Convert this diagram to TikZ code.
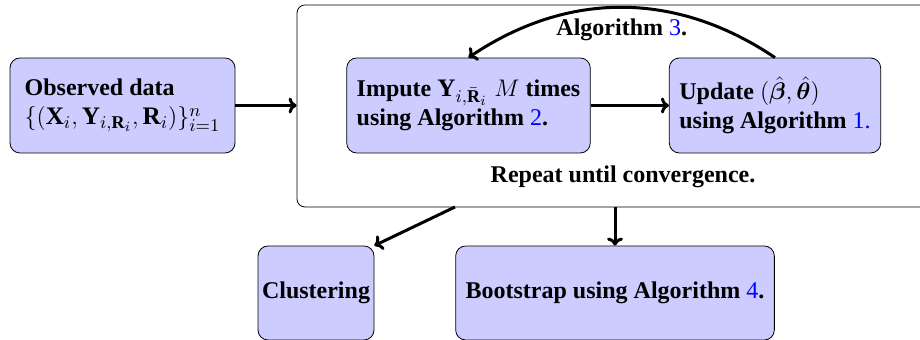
\documentclass[tikz,border=0pt]{standalone}
\usepackage{amsmath}
\usepackage{amssymb}
\usepackage{bm}
\usepackage{xcolor}
\usepackage{fontspec}
\setmainfont{Liberation Serif}
\DeclareMathSizes{12}{12.6}{9}{7}
\usepackage{tikz}
\usetikzlibrary{positioning}
\usetikzlibrary{arrows.meta}
\pgfdeclarelayer{nodelayer}
\pgfdeclarelayer{edgelayer}
\pgfsetlayers{nodelayer,edgelayer,main}
\tikzset{
    none/.style = {inner sep=0pt},
    block/.style = {draw, thin, rounded corners=5pt, fill=blue!20, align=left,
        inner sep=5pt, minimum height=47.5pt,
        font=\fontsize{12}{14.5}\selectfont\bfseries},
    flow/.style = {-{To[length=4pt, width=8pt]}, line width=1.5pt}
}
\newcommand{\algref}[1]{\textcolor{blue}{\mdseries #1}}

\begin{document}
\begin{tikzpicture}[x=0.5pt, y=0.5pt]
  \useasboundingbox (0, 0) rectangle (920, 340);
  \begin{pgfonlayer}{nodelayer}
    \node [draw, thin, rounded corners=4pt, minimum width=336.5pt, minimum height=101pt] (loop) at (633.5, 234) {};
    \node [block, minimum width=112.5pt] (obs) at (122.5, 234.5) {Observed data\\$\{(\mathbf{X}_i, \mathbf{Y}_{i,\mathbf{R}_i}, \mathbf{R}_i)\}_{i=1}^n$};
    \node [block, minimum width=118.5pt] (imp) at (468.5, 234.5) {Impute $\mathbf{Y}_{i,\bar{\mathbf{R}}_i}\;M$ times\\using Algorithm \algref{2}.};
    \node [block, minimum width=103pt] (upd) at (775, 234.5) {Update $(\hat{\bm{\beta}}, \hat{\bm{\theta}})$\\using Algorithm \algref{1.}};
    \node [style=none, font=\fontsize{12}{14.5}\selectfont\bfseries] (rep) at (623, 163) {Repeat until convergence.};
    \node [block, inner xsep=2pt, minimum width=58pt, minimum height=47pt] (clu) at (316, 47) {Clustering};
    \node [block, minimum width=157pt, minimum height=47pt] (boot) at (615, 47) {Bootstrap using Algorithm \algref{4}.};
    \coordinate (split) at (455, 133);
  \end{pgfonlayer}
  \begin{pgfonlayer}{edgelayer}
    \draw [flow] (obs.east) -- (obs.east -| loop.west);
    \draw [flow] (imp) -- (upd);
    \draw [flow] (upd.north) to [bend right=34]
      node [midway, below=5pt, style=none, font=\fontsize{12}{14.5}\selectfont\bfseries] {Algorithm \algref{3}.} (imp.north);
    \draw [flow] (split) -- (clu.north east);
    \draw [flow] (loop.south -| boot.north) -- (boot.north);
  \end{pgfonlayer}
\end{tikzpicture}
\end{document}
